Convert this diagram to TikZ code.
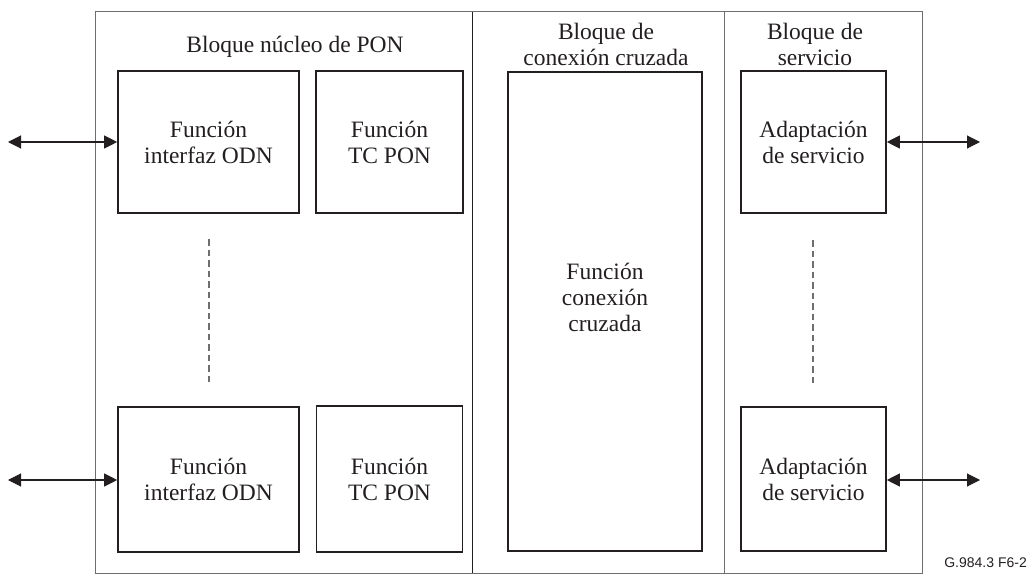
\documentclass[tikz,border=0pt]{standalone}
\usepackage{fontspec}
\setmainfont{Liberation Serif}
\newfontfamily\figlabelfont{Liberation Sans}
\usetikzlibrary{arrows.meta}
\definecolor{boxline}{HTML}{231F20}
\definecolor{frameline}{HTML}{6E6E6E}
\begin{document}
\begin{tikzpicture}[x=1pt,y=-1pt,
  fbox/.style={draw=boxline, line width=1.6pt, inner sep=0pt, align=center,
    font=\fontsize{23.5}{26}\selectfont, text=boxline},
  ttl/.style={inner sep=0pt, align=center, font=\fontsize{23.5}{26}\selectfont, text=boxline},
  arr/.style={draw=boxline, line width=1.1pt,
    {Triangle[length=13pt,width=13pt]}-{Triangle[length=13pt,width=13pt]}},
  dashv/.style={draw=frameline, line width=1.2pt, dash pattern=on 6.5pt off 4pt},
  thinframe/.style={draw=frameline, line width=1pt},
  thickdiv/.style={draw=boxline, line width=1.6pt}]
\useasboundingbox (0,0) rectangle (1029,575);
% outer frame and dividers
\draw[thinframe] (95,12) rectangle (922,573);
\draw[thickdiv] (472.5,12) -- (472.5,573);
\draw[thinframe] (724.5,12) -- (724.5,573);
% titles
\node[ttl] (t1) at (295,47) {Bloque núcleo de PON};
\node[ttl] (t2) at (606,44.5) {Bloque de\\conexión cruzada};
\node[ttl] (t3) at (815,44.5) {Bloque de\\servicio};
% boxes
\node[fbox, minimum width=181pt, minimum height=142pt] (odn1) at (208.5,142) {Función\\interfaz ODN};
\node[fbox, minimum width=147pt, minimum height=142pt] (tc1) at (389.5,142) {Función\\TC PON};
\node[fbox, minimum width=181pt, minimum height=145pt] (odn2) at (208.5,479.5) {Función\\interfaz ODN};
\node[fbox, minimum width=146pt, minimum height=146pt] (tc2) at (389.5,479) {Función\\TC PON};
\node[fbox, minimum width=194pt, minimum height=479pt] (xc) at (605,311.5) {};
\node[ttl] (xct) at (605,297) {Función\\conexión\\cruzada};
\node[fbox, minimum width=145pt, minimum height=142pt] (sa1) at (813.5,142) {Adaptación\\de servicio};
\node[fbox, minimum width=145pt, minimum height=144pt] (sa2) at (813.5,479) {Adaptación\\de servicio};
% dashed continuation lines
\draw[dashv] (209,239) -- (209,383);
\draw[dashv] (813,240) -- (813,383);
% arrows
\coordinate (l1) at (8,142);
\coordinate (l2) at (8,480);
\coordinate (r1) at (980,142);
\coordinate (r2) at (980,480);
\draw[arr] (l1) -- (odn1.west);
\draw[arr] (l2) -- (odn2.west |- l2);
\draw[arr] (sa1.east) -- (r1);
\draw[arr] (sa2.east |- r2) -- (r2);
% figure id
\node[anchor=east, inner sep=0pt, font=\figlabelfont\fontsize{14}{16}\selectfont, text=boxline] (fid) at (1027,563) {G.984.3 F6-2};
\end{tikzpicture}
\end{document}
